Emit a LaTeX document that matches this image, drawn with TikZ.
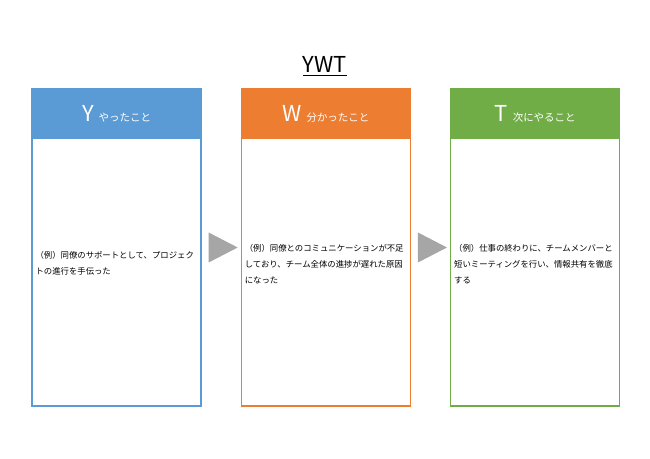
\documentclass[tikz,border=0pt]{standalone}
\usepackage{fontspec}
\setmainfont{Noto Sans CJK JP}
\usetikzlibrary{positioning}
\definecolor{yblue}{HTML}{5B9BD5}
\definecolor{worange}{HTML}{ED7D31}
\definecolor{tgreen}{HTML}{70AD47}
\definecolor{arrowgray}{HTML}{A6A6A6}
\tikzstyle{card}=[draw, line width=1.3bp, minimum width=169bp, minimum height=317bp, inner sep=0pt]
\tikzstyle{head}=[draw, line width=1.3bp, minimum width=169bp, minimum height=49bp, inner sep=0pt, text=white, anchor=north]
\tikzstyle{memo}=[anchor=west, align=left, inner sep=0pt, font=\fontsize{8.4}{16}\selectfont]
\newcommand{\headtext}[2]{{\fontsize{22}{26}\selectfont #1}\hspace{5bp}{\fontsize{10.5}{12}\selectfont #2}}

\begin{document}
\begin{tikzpicture}[x=1bp,y=-1bp,node distance=39bp]
\fill[white] (0,0) rectangle (650,459);
\useasboundingbox (0,0) rectangle (650,459);
% title
\node [inner sep=0pt, font=\fontsize{22}{26}\selectfont] (title) at (325,64) {YWT};
\draw[line width=1.3bp] ([yshift=-3.5bp]title.base west) -- ([yshift=-3.5bp]title.base east);
% the three cards
\node [card, draw=yblue] (y) at (116.5,247.5) {};
\node [card, draw=worange, right=of y] (w) {};
\node [card, draw=tgreen, right=of w] (t) {};
\node [head, fill=yblue, draw=yblue] (yh) at (y.north) {\headtext{Y}{やったこと}};
\node [head, fill=worange, draw=worange] (wh) at (w.north) {\headtext{W}{分かったこと}};
\node [head, fill=tgreen, draw=tgreen] (th) at (t.north) {\headtext{T}{次にやること}};
% examples
\node [memo] (ymemo) at ([xshift=4bp,yshift=-16bp]y.west) {（例）同僚のサポートとして、プロジェク\\トの進行を手伝った};
\node [memo] (wmemo) at ([xshift=4bp,yshift=-17bp]w.west) {（例）同僚とのコミュニケーションが不足\\しており、チーム全体の進捗が遅れた原因\\になった};
\node [memo] (tmemo) at ([xshift=4bp,yshift=-17bp]t.west) {（例）仕事の終わりに、チームメンバーと\\短いミーティングを行い、情報共有を徹底\\する};
% arrows between cards
\fill[arrowgray] ([xshift=7bp,yshift=15bp]y.east) -- ([xshift=7bp,yshift=-15bp]y.east) -- ([xshift=36bp]y.east) -- cycle;
\fill[arrowgray] ([xshift=7bp,yshift=15bp]w.east) -- ([xshift=7bp,yshift=-15bp]w.east) -- ([xshift=36bp]w.east) -- cycle;
\end{tikzpicture}
\end{document}
